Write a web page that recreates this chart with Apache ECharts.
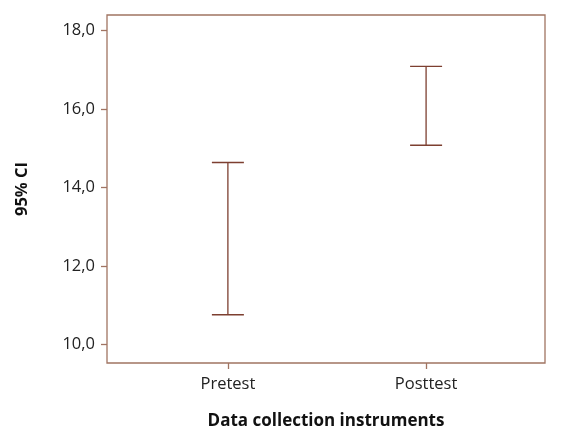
<!DOCTYPE html>
<html>
<head>
<meta charset="utf-8">
<script src="https://cdn.jsdelivr.net/npm/echarts@6/dist/echarts.min.js"></script>
<style>
  html, body { margin: 0; padding: 0; background: #fff; }
  #chart { width: 561px; height: 443px; }
</style>
</head>
<body>
<div id="chart"></div>
<script>
  // categories and 95% CI bounds
  const categories = ['Pretest', 'Posttest']
  const lowerCI = [10.76, 15.08]
  const upperCI = [14.64, 17.09]
  const yTicks = [10, 12, 14, 16, 18]

  const chart = echarts.init(document.getElementById('chart'))
  const frameColor = '#a07462'
  const barColor = '#7d3f30'

  const data = categories.map((c, i) => [i + 1, lowerCI[i], upperCI[i]])

  const option = {
    animation: false,
    grid: {
      left: 107,
      right: 16,
      top: 15,
      bottom: 80,
      show: true,
      borderColor: frameColor,
      borderWidth: 1.3
    },
    xAxis: {
      type: 'value',
      min: 0.39,
      max: 2.6,
      splitLine: { show: false },
      axisLine: { show: false },
      axisTick: {
        show: true,
        customValues: [1, 2],
        length: 6,
        lineStyle: { color: frameColor, width: 1.3 }
      },
      axisLabel: {
        customValues: [1, 2],
        formatter: v => categories[Math.round(v) - 1] || '',
        color: '#222',
        fontSize: 16.5,
        fontFamily: 'Open Sans',
        margin: 13
      },
      name: 'Data collection instruments',
      nameLocation: 'middle',
      nameGap: 50,
      nameTextStyle: {
        color: '#111',
        fontSize: 17,
        fontWeight: 'bold',
        fontFamily: 'Open Sans'
      }
    },
    yAxis: {
      type: 'value',
      min: 9.53,
      max: 18.4,
      splitLine: { show: false },
      axisLine: { show: false },
      axisTick: {
        show: true,
        customValues: yTicks,
        length: 6,
        lineStyle: { color: frameColor, width: 1.3 }
      },
      axisLabel: {
        customValues: yTicks,
        formatter: v => v.toFixed(1).replace('.', ','),
        color: '#222',
        fontSize: 16.5,
        fontFamily: 'Open Sans',
        margin: 12
      },
      name: '95% CI',
      nameLocation: 'middle',
      nameRotate: 90,
      nameGap: 76,
      nameTextStyle: {
        color: '#111',
        fontSize: 16.5,
        fontWeight: 'bold',
        fontFamily: 'Open Sans'
      }
    },
    series: [
      {
        type: 'custom',
        data: data,
        encode: { x: 0, y: [1, 2] },
        renderItem: function (params, api) {
          const lo = api.coord([api.value(0), api.value(1)])
          const hi = api.coord([api.value(0), api.value(2)])
          const half = 16
          const style = { stroke: barColor, lineWidth: 1.3 }
          return {
            type: 'group',
            children: [
              { type: 'line', shape: { x1: lo[0], y1: lo[1], x2: hi[0], y2: hi[1] }, style: style },
              { type: 'line', shape: { x1: hi[0] - half, y1: hi[1], x2: hi[0] + half, y2: hi[1] }, style: style },
              { type: 'line', shape: { x1: lo[0] - half, y1: lo[1], x2: lo[0] + half, y2: lo[1] }, style: style }
            ]
          }
        }
      }
    ]
  }
  chart.setOption(option)
</script>
</body>
</html>
